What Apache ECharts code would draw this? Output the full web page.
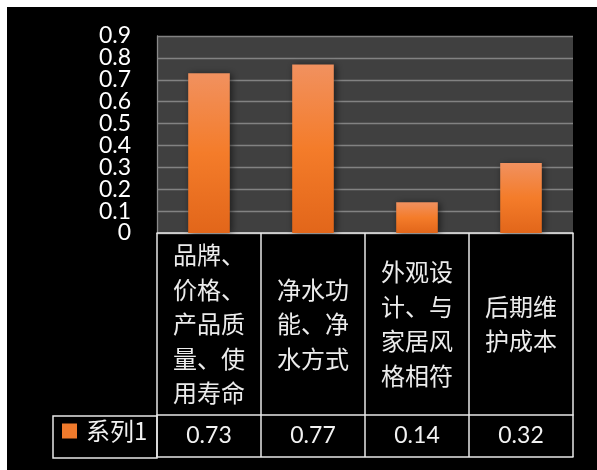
<!DOCTYPE html>
<html>
<head>
<meta charset="utf-8">
<script src="https://cdn.jsdelivr.net/npm/echarts@6/dist/echarts.min.js"></script>
<style>
  html, body { margin: 0; padding: 0; background: #ffffff; }
  #chart { position: absolute; left: 7px; top: 7px; width: 590px; height: 463px; }
</style>
</head>
<body>
<div id="chart"></div>
<script>
// Survey factors and their weights
const categories = [
  '品牌、价格、产品质量、使用寿命',
  '净水功能、净水方式',
  '外观设计、与家居风格相符',
  '后期维护成本'
];
const seriesName = '系列1';
const values = [0.73, 0.77, 0.14, 0.32];
const yTickLabels = ['0', '0.1', '0.2', '0.3', '0.4', '0.5', '0.6', '0.7', '0.8', '0.9'];
const yRange = { min: 0, max: 0.9, step: 0.1 };

const CJK = '"Noto Sans CJK SC", "Noto Sans", sans-serif';
const NUM = 'Lato, "Noto Sans", sans-serif';

// layout of the plot and the data table beneath it
const G = { left: 150, right: 24, top: 29, bottom: 237 };
const CAT_ROW = 182;   // height of the category row
const VAL_ROW = 42;    // height of the value row
const LEGEND_CELL_W = 104;

const chart = echarts.init(document.getElementById('chart'));
const H = 463;
const tableTop = H - G.bottom + 1;

const barColor = new echarts.graphic.LinearGradient(0, 0, 0, 1, [
  { offset: 0, color: '#f1915f' },
  { offset: 0.5, color: '#f47c2a' },
  { offset: 1, color: '#e2661a' }
]);

chart.setOption({
  backgroundColor: '#000000',
  animation: false,
  grid: {
    left: G.left, right: G.right, top: G.top, bottom: G.bottom,
    show: true, backgroundColor: '#404040', borderWidth: 0
  },
  legend: {
    show: true,
    left: G.left - LEGEND_CELL_W + 9,
    top: tableTop + CAT_ROW + 3,
    padding: 0,
    itemWidth: 15,
    itemHeight: 15,
    icon: 'rect',
    textStyle: { color: '#f2f2f2', fontSize: 24, fontFamily: CJK, padding: [0, 0, 0, 4] },
    data: [{ name: seriesName, itemStyle: { color: '#f07a2c' } }]
  },
  xAxis: [
    {
      type: 'category',
      data: categories,
      position: 'bottom',
      boundaryGap: true,
      axisLine: { show: true, lineStyle: { color: '#e8e8e8', width: 1.5 } },
      axisTick: {
        show: true, interval: 0, length: CAT_ROW + VAL_ROW,
        lineStyle: { color: '#e8e8e8', width: 1.5 }
      },
      axisLabel: {
        interval: 0,
        color: '#ececec',
        fontSize: 24,
        fontFamily: CJK,
        lineHeight: 34.5,
        width: 80,
        overflow: 'break',
        margin: CAT_ROW / 2,
        verticalAlign: 'middle',
        align: 'center'
      }
    },
    {
      type: 'category',
      data: categories,
      position: 'bottom',
      offset: CAT_ROW,
      axisLine: { show: true, lineStyle: { color: '#e8e8e8', width: 1.5 } },
      axisTick: { show: false },
      axisLabel: {
        interval: 0,
        color: '#f2f2f2',
        fontSize: 23,
        fontFamily: NUM,
        margin: VAL_ROW / 2,
        verticalAlign: 'middle',
        formatter: (v, i) => values[i].toFixed(2)
      }
    },
    {
      type: 'category',
      data: categories,
      position: 'bottom',
      offset: CAT_ROW + VAL_ROW,
      axisLine: { show: true, lineStyle: { color: '#e8e8e8', width: 1.5 } },
      axisTick: { show: false },
      axisLabel: { show: false }
    }
  ],
  yAxis: [
    {
      // value scale for the bars and the gridlines
      type: 'value',
      min: yRange.min,
      max: yRange.max,
      interval: yRange.step,
      axisLine: { show: true, lineStyle: { color: '#8a8a8a', width: 1.3 } },
      axisTick: { show: false },
      splitLine: { show: true, lineStyle: { color: '#828282', width: 1.3 } },
      axisLabel: { show: false }
    },
    {
      // tick labels, every one shown even where they crowd
      type: 'category',
      data: yTickLabels,
      position: 'left',
      boundaryGap: false,
      axisLine: { show: false },
      axisTick: { show: false },
      splitLine: { show: false },
      axisLabel: {
        interval: 0,
        color: '#ffffff',
        fontSize: 23,
        fontFamily: NUM,
        margin: 26
      }
    }
  ],
  graphic: [
    {
      type: 'rect',
      shape: {
        x: G.left - LEGEND_CELL_W,
        y: tableTop + CAT_ROW,
        width: LEGEND_CELL_W,
        height: VAL_ROW
      },
      style: { fill: 'none', stroke: '#e8e8e8', lineWidth: 1.5 },
      z: 10
    }
  ],
  series: [
    {
      name: seriesName,
      type: 'bar',
      data: values,
      yAxisIndex: 0,
      barWidth: '40%',
      itemStyle: {
        color: barColor,
        shadowColor: 'rgba(0,0,0,0.55)',
        shadowBlur: 7,
        shadowOffsetX: 2,
        shadowOffsetY: 1
      }
    }
  ]
});
</script>
</body>
</html>
